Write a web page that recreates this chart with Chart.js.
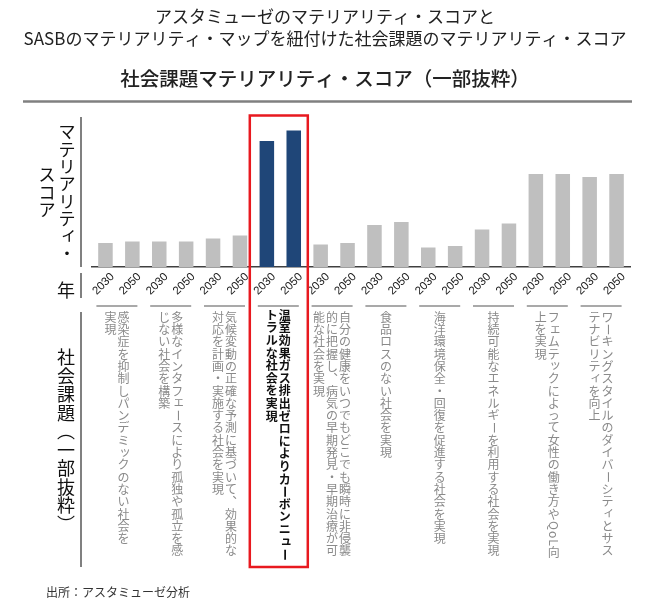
<!DOCTYPE html>
<html>
<head>
<meta charset="utf-8">
<script src="https://cdn.jsdelivr.net/npm/chart.js@4/dist/chart.umd.min.js"></script>
<style>
  body { margin: 0; background: #fff; }
</style>
</head>
<body>
<canvas id="chart" width="650" height="606"></canvas>
<script>
// 社会課題（列ごとに改行済み）
const issues = [
  ["感染症を抑制しパンデミックのない社会を", "実現"],
  ["多様なインタフェースにより孤独や孤立を感", "じない社会を構築"],
  ["気候変動の正確な予測に基づいて、効果的な", "対応を計画・実施する社会を実現"],
  ["温室効果ガス排出ゼロによりカーボンニュー", "トラルな社会を実現"],
  ["自分の健康をいつでもどこでも瞬時に非侵襲", "的に把握し、病気の早期発見・早期治療が可", "能な社会を実現"],
  ["食品ロスのない社会を実現"],
  ["海洋環境保全・回復を促進する社会を実現"],
  ["持続可能なエネルギーを利用する社会を実現"],
  ["フェムテックによって女性の働き方やQoL向", "上を実現"],
  ["ワーキングスタイルのダイバーシティとサス", "テナビリティを向上"]
];
const years = ["2030", "2050"];
const score2030 = [0.16, 0.17, 0.19, 0.84, 0.15, 0.28, 0.13, 0.25, 0.62, 0.60];
const score2050 = [0.17, 0.17, 0.21, 0.91, 0.16, 0.30, 0.14, 0.29, 0.62, 0.62];
const highlight = 3;

const JP = "'Noto Sans CJK JP', sans-serif";
const barColors = issues.map((_, i) => i === highlight ? "#1f4678" : "#bfbfbf");

const vForms = { "、": "︑", "（": "︵", "）": "︶", "。": "︒" };

function drawVertical(ctx, text, x, top, step, font, color) {
  ctx.font = font;
  ctx.fillStyle = color;
  ctx.textAlign = "center";
  ctx.textBaseline = "middle";
  let y = top;
  for (let ch of text) {
    if (/[A-Za-z0-9]/.test(ch)) {
      const w = ctx.measureText(ch).width;
      ctx.save();
      ctx.translate(x, y + w / 2 + 1);
      ctx.rotate(Math.PI / 2);
      ctx.fillText(ch, 0, 0);
      ctx.restore();
      y += w + 1;
      continue;
    }
    ch = vForms[ch] || ch;
    let cx = x, cy = y + step / 2;
    if ("ァィゥェォッャュョ".includes(ch)) { cx += step * 0.12; cy -= step * 0.12; }
    if ("ー－".includes(ch)) {
      ctx.save();
      ctx.translate(cx, cy);
      ctx.rotate(Math.PI / 2);
      ctx.fillText(ch, 0, 0);
      ctx.restore();
    } else {
      ctx.fillText(ch, cx, cy);
    }
    y += step;
  }
}

const decor = {
  id: "decor",
  afterDraw(chart) {
    const ctx = chart.ctx;
    const area = chart.chartArea;
    const x = chart.scales.x;
    ctx.save();

    // タイトル
    ctx.fillStyle = "#222";
    ctx.textAlign = "center";
    ctx.textBaseline = "middle";
    ctx.font = "17px " + JP;
    ctx.fillText("アスタミューゼのマテリアリティ・スコアと", 325, 17);
    ctx.fillText("SASBのマテリアリティ・マップを紐付けた社会課題のマテリアリティ・スコア", 325, 39);
    ctx.font = "500 19.5px " + JP;
    ctx.fillText("社会課題マテリアリティ・スコア（一部抜粋）", 325, 79);

    ctx.strokeStyle = "#808080";
    ctx.lineWidth = 2.5;
    ctx.beginPath();
    ctx.moveTo(23, 101.5);
    ctx.lineTo(632, 101.5);
    ctx.stroke();

    // 左側の見出しと区切り線
    ctx.lineWidth = 2;
    ctx.beginPath();
    ctx.moveTo(81, area.top);
    ctx.lineTo(81, area.bottom);
    ctx.moveTo(81, 273);
    ctx.lineTo(81, 298);
    ctx.moveTo(81, 312);
    ctx.lineTo(81, 567);
    ctx.stroke();

    drawVertical(ctx, "マテリアリティ・", 67, 123, 17.4, "17px " + JP, "#111");
    drawVertical(ctx, "スコア", 47, 166, 17.4, "17px " + JP, "#111");
    drawVertical(ctx, "年", 66, 281, 18, "18px " + JP, "#111");
    drawVertical(ctx, "社会課題（一部抜粋）", 66, 348, 18.5, "18px " + JP, "#111");

    // 年ラベル
    ctx.font = "11.5px 'Liberation Sans', Arial, sans-serif";
    ctx.fillStyle = "#222";
    ctx.textAlign = "center";
    ctx.textBaseline = "middle";
    chart.data.datasets.forEach((ds, d) => {
      chart.getDatasetMeta(d).data.forEach(el => {
        ctx.save();
        ctx.translate(el.x - 2, 284);
        ctx.rotate(-Math.PI / 4);
        ctx.fillText(ds.label, 0, 0);
        ctx.restore();
      });
    });

    // 社会課題ラベル
    issues.forEach((cols, i) => {
      const cx = x.getPixelForValue(i) - 2;
      ctx.strokeStyle = "#8c8c8c";
      ctx.lineWidth = 1.5;
      ctx.beginPath();
      ctx.moveTo(cx - 20.5, 306);
      ctx.lineTo(cx + 20.5, 306);
      ctx.stroke();
      const hl = i === highlight;
      const gap = 13;
      cols.forEach((t, c) => {
        const colX = cx + ((cols.length - 1) / 2 - c) * gap;
        drawVertical(ctx, t, colX, hl ? 309 : 311, hl ? 12.6 : 12.3,
          (hl ? "bold " : "") + "12px " + JP, hl ? "#111" : "#8a8a8a");
      });
    });

    // 強調枠
    const hx = x.getPixelForValue(highlight);
    ctx.strokeStyle = "#e8191f";
    ctx.lineWidth = 2.5;
    ctx.strokeRect(hx - 30.5, area.top - 1.5, 58, 567 - area.top + 1.5);

    // 出所
    ctx.font = "12px " + JP;
    ctx.fillStyle = "#333";
    ctx.textAlign = "left";
    ctx.fillText("出所：アスタミューゼ分析", 46, 592);
    ctx.restore();
  }
};

new Chart(document.getElementById("chart").getContext("2d"), {
  type: "bar",
  data: {
    labels: issues.map(c => c.join("")),
    datasets: [
      { label: years[0], data: score2030, backgroundColor: barColors },
      { label: years[1], data: score2050, backgroundColor: barColors }
    ]
  },
  options: {
    responsive: false,
    animation: false,
    layout: { padding: { left: 92, right: 20, top: 117, bottom: 339 } },
    datasets: { bar: { categoryPercentage: 1, barPercentage: 0.54 } },
    plugins: { legend: { display: false }, tooltip: { enabled: false } },
    scales: {
      x: {
        grid: { display: false, drawTicks: false },
        border: { display: true, color: "#404040", width: 1.5 },
        ticks: { display: false }
      },
      y: { display: false, min: 0, max: 1 }
    }
  },
  plugins: [decor]
});
</script>
</body>
</html>
